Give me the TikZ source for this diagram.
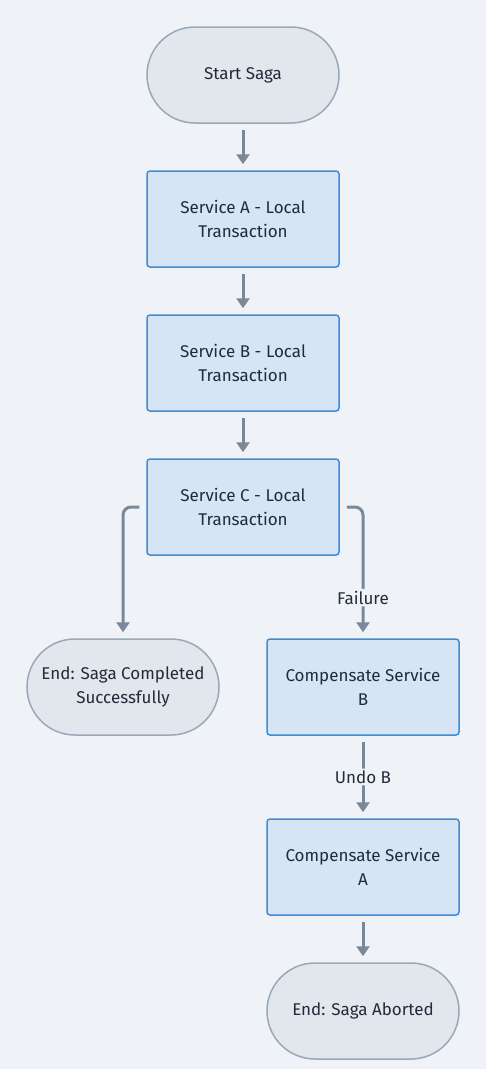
\documentclass[tikz,border=0pt]{standalone}
\usepackage{fontspec}
\setmainfont{Fira Sans}
\usetikzlibrary{arrows.meta}
\definecolor{bg}{HTML}{EFF3F7}
\definecolor{termfill}{HTML}{E2E6ED}
\definecolor{termdraw}{HTML}{9AA8B8}
\definecolor{procfill}{HTML}{D5E5F5}
\definecolor{procdraw}{HTML}{3A8EDC}
\definecolor{txt}{HTML}{222B3A}
\definecolor{arr}{HTML}{7A8899}
\tikzset{
  base/.style={minimum width=192pt, minimum height=96pt, inner sep=0pt, align=center,
    font=\fontsize{17}{24}\selectfont, text=txt, line width=1.5pt},
  term/.style={base, draw=termdraw, fill=termfill, rounded corners=48pt},
  proc/.style={base, draw=procdraw, fill=procfill, rounded corners=3pt},
  conn/.style={draw=arr, line width=3pt, -{Triangle[length=10pt,width=13pt]}, rounded corners=8pt},
  lbl/.style={fill=bg, text=txt, font=\fontsize{17}{18}\selectfont, inner sep=2pt}
}
\begin{document}
\begin{tikzpicture}[x=1pt,y=-1pt]
\fill[bg] (0,0) rectangle (486,1069);
\useasboundingbox (0,0) rectangle (486,1069);
\node[term] (start) at (243,75) {Start Saga};
\node[proc] (sa) at (243,219) {Service A - Local\\Transaction};
\node[proc] (sb) at (243,363) {Service B - Local\\Transaction};
\node[proc] (sc) at (243,507) {Service C - Local\\Transaction};
\node[term] (ok) at (123,687) {End: Saga Completed\\Successfully};
\node[proc] (cb) at (363,687) {Compensate Service\\B};
\node[proc] (ca) at (363,867) {Compensate Service\\A};
\node[term] (ab) at (363,1011) {End: Saga Aborted};
\draw[conn, shorten <=6pt, shorten >=6pt] (start) -- (sa);
\draw[conn, shorten <=6pt, shorten >=6pt] (sa) -- (sb);
\draw[conn, shorten <=6pt, shorten >=6pt] (sb) -- (sc);
\draw[conn, shorten <=7pt, shorten >=6pt] (sc.west) -| (ok.north);
\draw[conn, shorten <=7pt, shorten >=6pt] (sc.east) -| node[lbl, pos=0.845] {Failure} (cb.north);
\draw[conn, shorten <=6pt, shorten >=6pt] (cb) -- node[lbl] {Undo B} (ca);
\draw[conn, shorten <=6pt, shorten >=6pt] (ca) -- (ab);
\end{tikzpicture}
\end{document}
